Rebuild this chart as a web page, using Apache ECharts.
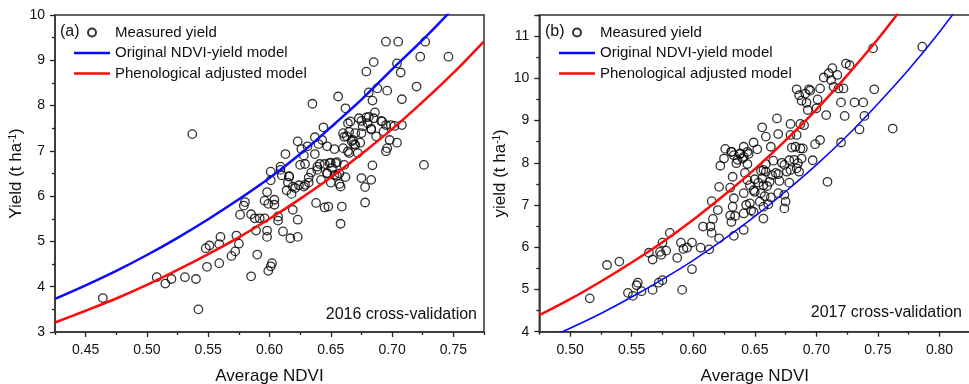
<!DOCTYPE html>
<html>
<head>
<meta charset="utf-8">
<script src="https://cdn.jsdelivr.net/npm/echarts@6/dist/echarts.min.js"></script>
<style>
  html, body { margin: 0; padding: 0; background: #fff; }
  #panelA { position: absolute; left: 0; top: 0; width: 490px; height: 384px; }
  #panelB { position: absolute; left: 480px; top: 0; width: 489px; height: 384px; }
</style>
</head>
<body>
<div id="panelA"></div>
<div id="panelB"></div>
<script>
// ---------------- data: panel (a) 2016 ----------------
const ndviA = [0.464, 0.508, 0.515, 0.520, 0.531, 0.540, 0.542, 0.537, 0.548, 0.551, 0.549, 0.559, 0.560, 0.559,
  0.569, 0.572, 0.573, 0.575, 0.576, 0.579, 0.580, 0.585, 0.585, 0.588, 0.589, 0.590, 0.592, 0.596, 0.596, 0.598,
  0.598, 0.598, 0.599, 0.601, 0.602, 0.599, 0.601, 0.601, 0.604, 0.604, 0.607, 0.607, 0.609, 0.610, 0.611, 0.613,
  0.614, 0.615, 0.616, 0.617, 0.618, 0.619, 0.621, 0.623, 0.623, 0.623, 0.624, 0.625, 0.626, 0.628, 0.629, 0.629,
  0.631, 0.632, 0.634, 0.635, 0.637, 0.637, 0.638, 0.639, 0.640, 0.641, 0.642, 0.643, 0.644, 0.645, 0.645, 0.647,
  0.648, 0.647, 0.649, 0.650, 0.651, 0.653, 0.654, 0.655, 0.656, 0.657, 0.658, 0.659, 0.660, 0.660, 0.661, 0.662,
  0.662, 0.663, 0.664, 0.665, 0.666, 0.667, 0.669, 0.670, 0.672, 0.673, 0.674, 0.675, 0.675, 0.676, 0.678, 0.678,
  0.679, 0.679, 0.680, 0.681, 0.683, 0.683, 0.684, 0.684, 0.685, 0.685, 0.686, 0.687, 0.688, 0.692, 0.693, 0.695,
  0.695, 0.696, 0.696, 0.698, 0.699, 0.702, 0.704, 0.704, 0.705, 0.707, 0.708, 0.708, 0.720, 0.723, 0.726, 0.727,
  0.746,
  0.650, 0.655, 0.653, 0.657, 0.658, 0.647, 0.675, 0.681, 0.691, 0.695, 0.683, 0.665, 0.609, 0.616, 0.619, 0.628,
  0.632, 0.639, 0.661, 0.668, 0.670, 0.664];
const yieldA = [3.75, 4.21, 4.07, 4.17, 4.21, 4.17, 3.50, 7.37, 4.85, 4.91, 4.44, 4.52, 5.10, 4.94,
  4.68, 4.78, 5.13, 4.95, 5.59, 5.79, 5.87, 5.60, 4.23, 5.51, 5.24, 4.71, 5.51, 5.51, 5.90, 6.09,
  5.24, 5.10, 4.35, 4.45, 4.52, 5.83, 6.35, 6.54, 5.92, 5.81, 5.55, 5.46, 6.65, 6.46, 5.22, 6.93,
  6.13, 6.30, 6.43, 5.07, 6.05, 5.70, 6.18, 5.48, 5.10, 7.21, 6.24, 6.69, 7.04, 6.90, 6.25, 6.71,
  7.10, 6.30, 6.52, 8.04, 7.30, 6.93, 5.85, 6.65, 7.15, 6.71, 6.36, 7.24, 7.52, 5.75, 6.71, 7.10,
  5.77, 6.51, 6.73, 6.30, 6.62, 7.04, 6.73, 6.45, 8.20, 6.27, 5.39, 5.77, 7.39, 7.06, 6.69, 6.42,
  7.94, 7.32, 6.99, 6.95, 7.65, 7.21, 7.15, 7.39, 6.95, 7.72, 7.18, 7.39, 6.40, 7.54, 6.20, 5.86,
  7.74, 8.75, 7.61, 8.29, 7.49, 6.36, 6.68, 8.11, 8.96, 7.72, 7.85, 7.32, 8.38, 7.65, 7.43, 6.99,
  9.41, 8.33, 7.06, 7.24, 7.57, 7.55, 7.18, 8.93, 9.41, 8.73, 7.57, 8.14, 8.42, 9.08, 6.69, 9.41,
  9.08,
  6.74, 6.75, 6.47, 6.50, 6.21, 6.50, 7.66, 7.75, 7.66, 7.57, 7.47, 7.42, 6.58, 6.44, 6.21, 6.21,
  6.41, 6.58, 7.31, 7.24, 7.13, 7.61];

// ---------------- data: panel (b) 2017 ----------------
const ndviB = [0.516, 0.530, 0.540, 0.547, 0.551, 0.554, 0.555, 0.558, 0.564, 0.567, 0.567, 0.572, 0.573, 0.574,
  0.575, 0.575, 0.578, 0.581, 0.587, 0.590, 0.591, 0.592, 0.595, 0.599, 0.599, 0.606, 0.608, 0.613, 0.615, 0.616,
  0.614, 0.615, 0.620, 0.621, 0.621, 0.622, 0.626, 0.630, 0.630, 0.631, 0.631, 0.632, 0.632, 0.633, 0.633, 0.634,
  0.633, 0.635, 0.638, 0.640, 0.641, 0.641, 0.641, 0.642, 0.643, 0.644, 0.644, 0.645, 0.646, 0.646, 0.647, 0.649,
  0.649, 0.650, 0.650, 0.652, 0.653, 0.654, 0.655, 0.656, 0.657, 0.657, 0.657, 0.658, 0.659, 0.659, 0.659, 0.660,
  0.661, 0.662, 0.663, 0.663, 0.665, 0.667, 0.668, 0.669, 0.669, 0.669, 0.670, 0.672, 0.674, 0.674, 0.675, 0.676,
  0.678, 0.678, 0.679, 0.679, 0.680, 0.683, 0.684, 0.684, 0.685, 0.686, 0.686, 0.687, 0.687, 0.688, 0.688, 0.689,
  0.690, 0.691, 0.692, 0.693, 0.694, 0.695, 0.697, 0.699, 0.700, 0.701, 0.703, 0.703, 0.706, 0.708, 0.709, 0.710,
  0.712, 0.713, 0.714, 0.717, 0.718, 0.720, 0.720, 0.722, 0.723, 0.724, 0.727, 0.731, 0.735, 0.738, 0.739, 0.746,
  0.747, 0.762, 0.786,
  0.631, 0.638, 0.641, 0.644, 0.636, 0.625, 0.657, 0.664, 0.674, 0.682, 0.679, 0.684, 0.656, 0.649, 0.655, 0.641];
const yieldB = [4.79, 5.58, 5.66, 4.92, 4.85, 5.10, 5.16, 4.96, 5.87, 5.71, 4.99, 5.16, 5.89, 5.82,
  5.22, 6.11, 5.92, 6.34, 5.75, 6.11, 4.99, 5.96, 5.99, 6.11, 5.48, 5.99, 6.49, 5.95, 7.09, 6.67,
  6.49, 6.34, 6.88, 7.43, 6.21, 7.93, 8.33, 7.41, 6.75, 6.60, 8.26, 7.67, 6.96, 6.27, 7.16, 6.74,
  8.18, 7.99, 8.21, 8.10, 7.28, 8.38, 6.41, 7.76, 7.00, 7.97, 7.59, 8.21, 7.04, 7.47, 6.87, 8.48,
  6.84, 7.31, 7.61, 8.32, 7.53, 7.08, 7.81, 8.84, 7.47, 6.68, 6.96, 7.21, 8.62, 7.97, 7.79, 7.45,
  7.02, 7.55, 8.38, 7.18, 8.05, 7.76, 9.05, 8.68, 7.28, 7.73, 7.57, 8.00, 7.24, 6.92, 7.08, 7.79,
  8.06, 7.53, 8.92, 8.66, 8.36, 8.38, 9.74, 8.66, 7.99, 7.79, 9.60, 8.34, 8.92, 9.47, 8.10, 8.34,
  8.89, 9.64, 9.42, 9.25, 9.74, 9.71, 8.06, 8.44, 9.29, 9.50, 8.54, 9.76, 10.02, 9.13, 7.55, 10.12,
  9.96, 10.24, 9.80, 10.08, 9.76, 9.43, 8.48, 9.76, 9.11, 10.35, 10.31, 9.43, 8.79, 9.43, 9.11, 10.71,
  9.74, 8.81, 10.75,
  8.26, 8.22, 8.14, 8.26, 8.07, 8.10, 7.83, 7.71, 7.95, 8.07, 7.83, 7.87, 7.63, 7.35, 7.28, 6.80];

// ---------------- model curves ----------------
const curveXA = [0.425, 0.45, 0.475, 0.50, 0.525, 0.55, 0.575, 0.60, 0.625, 0.65, 0.675, 0.70, 0.725, 0.75, 0.775];
const blueA = [3.73, 4.03, 4.35, 4.70, 5.08, 5.49, 5.93, 6.40, 6.93, 7.52, 8.13, 8.80, 9.45, 10.15, 10.90];
const redA = [3.21, 3.47, 3.74, 4.04, 4.37, 4.72, 5.09, 5.50, 5.94, 6.41, 6.93, 7.48, 8.08, 8.72, 9.42];

const curveXB = [0.475, 0.50, 0.525, 0.55, 0.575, 0.60, 0.625, 0.65, 0.675, 0.70, 0.725, 0.75, 0.775, 0.80, 0.825];
const blueB = [3.75, 4.08, 4.43, 4.82, 5.24, 5.69, 6.19, 6.73, 7.32, 7.95, 8.64, 9.40, 10.21, 11.10, 12.07];
const redB = [4.39, 4.77, 5.19, 5.64, 6.12, 6.65, 7.23, 7.85, 8.53, 9.26, 10.07, 10.93, 11.88, 12.90, 14.0];

// labelled tick values
const xMajorA = [0.45, 0.50, 0.55, 0.60, 0.65, 0.70, 0.75];
const yMajorA = [3, 4, 5, 6, 7, 8, 9, 10];
const xMajorB = [0.50, 0.55, 0.60, 0.65, 0.70, 0.75, 0.80];
const yMajorB = [4, 5, 6, 7, 8, 9, 10, 11];

const FONT = 'Liberation Sans, Arial, sans-serif';
const AXIS_COLOR = '#333';
const TICK_COLOR = '#222';
const TEXT_COLOR = '#111';
const LINE_ICON = 'path://M0,0L36,0L36,2.5L0,2.5Z';

const zip = (xs, ys) => xs.map((x, i) => [x, ys[i]]);

// axis used only to draw ticks (no line, no labels)
const tickAxis = (gridIndex, min, max, interval, length, position) => ({
  type: 'value', gridIndex, min, max, interval, position,
  axisLine: { show: false },
  axisTick: { show: true, inside: false, length, lineStyle: { color: TICK_COLOR, width: 1.3 } },
  axisLabel: { show: false }, splitLine: { show: false }
});
const hiddenAxis = (gridIndex) => ({ type: 'value', gridIndex, min: 0, max: 1, show: false });

// one panel = one chart instance
const makePanel = (el, cfg) => {
  const chart = echarts.init(el);
  const g = cfg.grid;
  const pxX = g.width / (cfg.xMax - cfg.xMin);
  const pxY = g.height / (cfg.yMax - cfg.yMin);
  const xLo = cfg.xMajor[0], xHi = cfg.xMajor[cfg.xMajor.length - 1];
  const yLo = cfg.yMin + 0.5, yHi = cfg.yMinorTop;

  // main cartesian: short x ticks (every 0.05 from min) and long y ticks (every 1 from min)
  const baseX = {
    type: 'value', gridIndex: 0, min: cfg.xMin, max: cfg.xMax, interval: 0.05, position: 'bottom',
    axisLine: { show: true, onZero: false, lineStyle: { color: AXIS_COLOR, width: 1.5 } },
    axisTick: { show: true, inside: false, length: 3, lineStyle: { color: TICK_COLOR, width: 1.3 } },
    axisLabel: { customValues: cfg.xMajor, formatter: v => v.toFixed(2), fontSize: 14, fontFamily: FONT, color: TEXT_COLOR, margin: 11 },
    splitLine: { show: false },
    name: 'Average NDVI', nameLocation: 'middle', nameGap: 36, nameMoveOverlap: false,
    nameTextStyle: { fontSize: 17, fontFamily: FONT, color: TEXT_COLOR }
  };
  const baseY = {
    type: 'value', gridIndex: 0, min: cfg.yMin, max: cfg.yMax, interval: 1, position: 'left',
    axisLine: { show: true, onZero: false, lineStyle: { color: AXIS_COLOR, width: 1.5 } },
    axisTick: { show: true, inside: false, length: 5, lineStyle: { color: TICK_COLOR, width: 1.3 } },
    axisLabel: { customValues: cfg.yMajor, fontSize: 14, fontFamily: FONT, color: TEXT_COLOR, margin: 10 },
    splitLine: { show: false },
    name: `{n|${cfg.yName} (t ha}{s|-1}{n|)}`, nameLocation: 'middle', nameGap: 30, nameMoveOverlap: false,
    nameTextStyle: {
      color: TEXT_COLOR,
      rich: {
        n: { fontSize: 17, fontFamily: FONT, color: TEXT_COLOR },
        s: { fontSize: 10, fontFamily: FONT, color: TEXT_COLOR, verticalAlign: 'top' }
      }
    }
  };

  chart.setOption({
    animation: false,
    grid: [
      {
        left: g.left, top: g.top, width: g.width, height: g.height,
        outerBoundsMode: 'none', containLabel: false,
        show: true, borderColor: AXIS_COLOR, borderWidth: 1.5, backgroundColor: 'transparent'
      },
      // long x ticks at the labelled values
      {
        left: g.left + (xLo - cfg.xMin) * pxX, width: (xHi - xLo) * pxX, top: g.top, height: g.height,
        outerBoundsMode: 'none', containLabel: false, show: false
      },
      // short y ticks at the half values
      {
        left: g.left, width: g.width, top: g.top + (cfg.yMax - yHi) * pxY, height: (yHi - yLo) * pxY,
        outerBoundsMode: 'none', containLabel: false, show: false
      }
    ],
    legend: {
      orient: 'vertical', left: cfg.legendLeft, top: 25, padding: 0,
      itemWidth: 36, itemHeight: 8, itemGap: 5.5, selectedMode: false,
      textStyle: { fontSize: 15, fontFamily: FONT, color: TEXT_COLOR, lineHeight: 15 },
      data: [
        { name: 'Measured yield' },
        { name: 'Original NDVI-yield model', icon: LINE_ICON },
        { name: 'Phenological adjusted model', icon: LINE_ICON }
      ]
    },
    xAxis: [baseX, tickAxis(1, xLo, xHi, 0.05, 5, 'bottom'), hiddenAxis(2)],
    yAxis: [baseY, hiddenAxis(1), tickAxis(2, yLo, yHi, 1, 3, 'left')],
    graphic: [
      { type: 'text', x: cfg.tagX, y: 32, silent: true,
        style: { text: cfg.tag, fontSize: 16, fontFamily: FONT, fill: TEXT_COLOR, verticalAlign: 'middle' } },
      { type: 'text', x: cfg.noteX, y: cfg.noteY, silent: true,
        style: { text: cfg.note, fontSize: 16, fontFamily: FONT, fill: TEXT_COLOR, align: 'right', verticalAlign: 'middle' } }
    ],
    series: [
      {
        name: 'Measured yield', type: 'scatter', xAxisIndex: 0, yAxisIndex: 0,
        symbol: 'circle', symbolSize: 8.5,
        itemStyle: { color: 'rgba(255,255,255,0)', borderColor: '#000', borderWidth: 1.3 },
        emphasis: { disabled: true },
        data: zip(cfg.ndvi, cfg.yield)
      },
      {
        name: 'Original NDVI-yield model', type: 'line', xAxisIndex: 0, yAxisIndex: 0,
        symbol: 'none', smooth: 0.3, clip: true,
        lineStyle: { color: '#0a0aff', width: cfg.blueWidth }, itemStyle: { color: '#0a0aff' },
        data: zip(cfg.curveX, cfg.blue)
      },
      {
        name: 'Phenological adjusted model', type: 'line', xAxisIndex: 0, yAxisIndex: 0,
        symbol: 'none', smooth: 0.3, clip: true,
        lineStyle: { color: '#ff0a0a', width: 2.5 }, itemStyle: { color: '#ff0a0a' },
        data: zip(cfg.curveX, cfg.red)
      }
    ]
  });
  return chart;
};

makePanel(document.getElementById('panelA'), {
  grid: { left: 55, top: 15, width: 429, height: 317 },
  xMin: 0.425, xMax: 0.775, yMin: 3, yMax: 10, yMinorTop: 9.5,
  xMajor: xMajorA, yMajor: yMajorA,
  yName: 'Yield', legendLeft: 74, tag: '(a)', tagX: 60,
  note: '2016 cross-validation', noteX: 477, noteY: 315,
  ndvi: ndviA, yield: yieldA, curveX: curveXA, blue: blueA, red: redA, blueWidth: 2.5
});

// panel (b) div starts at x=480, so its inner coordinates are shifted by 480
makePanel(document.getElementById('panelB'), {
  grid: { left: 59.3, top: 15, width: 431, height: 316.7 },
  xMin: 0.475, xMax: 0.825, yMin: 4, yMax: 11.5, yMinorTop: 11.5,
  xMajor: xMajorB, yMajor: yMajorB,
  yName: 'yield', legendLeft: 79, tag: '(b)', tagX: 65,
  note: '2017 cross-validation', noteX: 482, noteY: 313,
  ndvi: ndviB, yield: yieldB, curveX: curveXB, blue: blueB, red: redB, blueWidth: 1.6
});
</script>
</body>
</html>
